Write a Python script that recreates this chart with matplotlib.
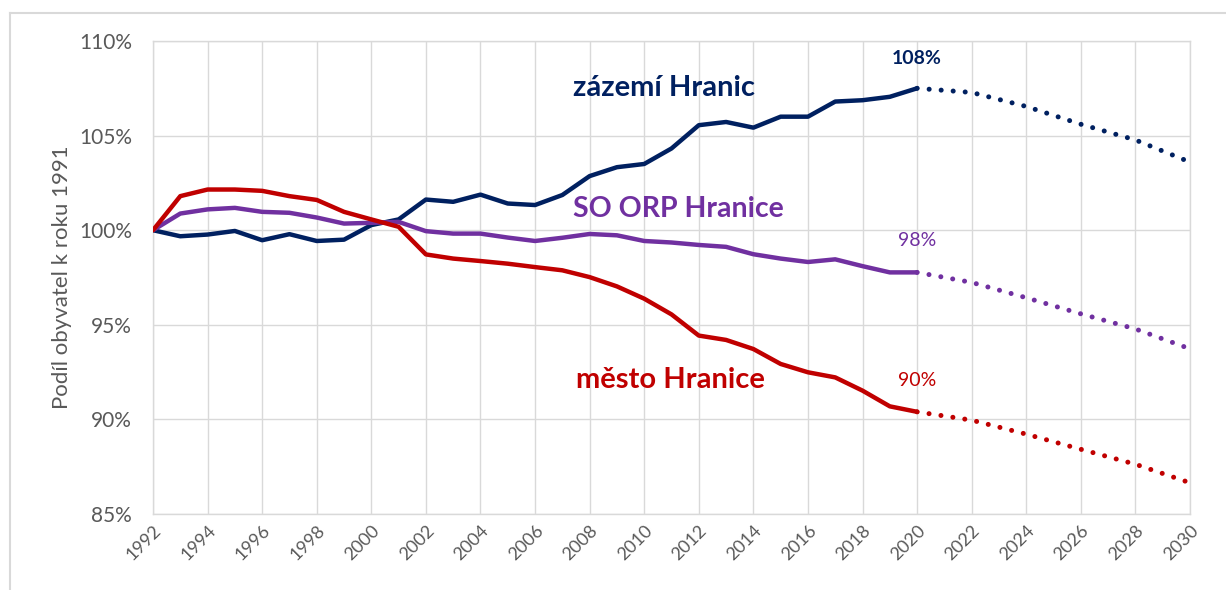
import matplotlib
matplotlib.use("Agg")
import matplotlib.pyplot as plt
from matplotlib.lines import Line2D
from matplotlib.ticker import FuncFormatter

# ---- data ----
years = list(range(1992, 2021))
zazemi = [100.0, 99.68, 99.77, 99.96, 99.47, 99.79, 99.43, 99.5, 100.27, 100.57,
          101.62, 101.5, 101.88, 101.41, 101.33, 101.86, 102.86, 103.33, 103.5, 104.32,
          105.55, 105.72, 105.42, 106.0, 106.0, 106.8, 106.87, 107.05, 107.5]
orp = [100.0, 100.88, 101.1, 101.18, 100.97, 100.92, 100.67, 100.35, 100.39, 100.44,
       99.95, 99.82, 99.82, 99.61, 99.43, 99.6, 99.8, 99.73, 99.43, 99.35,
       99.22, 99.12, 98.73, 98.5, 98.32, 98.46, 98.1, 97.77, 97.77]
mesto = [100.0, 101.8, 102.15, 102.15, 102.08, 101.8, 101.6, 100.97, 100.57, 100.18,
         98.72, 98.5, 98.37, 98.23, 98.05, 97.88, 97.52, 97.03, 96.38, 95.55,
         94.43, 94.2, 93.72, 92.93, 92.49, 92.22, 91.52, 90.69, 90.4]

proj_years = [2020, 2022, 2024, 2026, 2028, 2030]
zazemi_proj = [107.5, 107.28, 106.54, 105.6, 104.77, 103.6]
orp_proj = [97.77, 97.24, 96.43, 95.58, 94.78, 93.73]
mesto_proj = [90.4, 89.96, 89.22, 88.42, 87.63, 86.65]

series_names = ["zázemí Hranic", "SO ORP Hranice", "město Hranice"]
end_labels = ["108%", "98%", "90%"]
y_ticks = [85, 90, 95, 100, 105, 110]
x_ticks = list(range(1992, 2031, 2))

navy = "#002060"
purple = "#7030A0"
red = "#C00000"
grey = "#595959"
grid = "#D9D9D9"

plt.rcParams['font.family'] = ['Lato', 'DejaVu Sans']

fig = plt.figure(figsize=(12.26, 5.90), dpi=100)
ax = fig.add_axes([153/1226, 1 - 514/590, (1190-153)/1226, (514-41)/590])

for vals, pvals, col in [(zazemi, zazemi_proj, navy), (orp, orp_proj, purple), (mesto, mesto_proj, red)]:
    ax.plot(years, vals, color=col, lw=3.2, solid_capstyle='round', solid_joinstyle='round', zorder=3)
    ax.plot(proj_years, pvals, color=col, lw=3.6, linestyle=(0, (0.01, 2.4)),
            dash_capstyle='round', zorder=3)

ax.set_xlim(1992, 2030)
ax.set_ylim(85, 110)
ax.set_yticks(y_ticks)
ax.set_xticks(x_ticks)
ax.yaxis.set_major_formatter(FuncFormatter(lambda v, p: f"{v:.0f}%"))
ax.grid(True, color=grid, lw=1.0, zorder=0)
for s in ax.spines.values():
    s.set_color(grid)
    s.set_linewidth(1.0)
ax.tick_params(axis='both', length=0, colors=grey)
ax.tick_params(axis='y', labelsize=15, pad=15)
ax.tick_params(axis='x', labelsize=13, pad=6)
for lab in ax.get_xticklabels():
    lab.set_rotation(45)
    lab.set_ha('right')
    lab.set_rotation_mode('anchor')

fig.text(62/1226, 1 - 277/590, "Podíl obyvatel k roku 1991", fontsize=16, color=grey,
         rotation=90, ha='center', va='center')

# series labels
ax.text(2007.4, 107.5, series_names[0], color=navy, fontsize=21, fontweight='bold', va='center', ha='left')
ax.text(2007.4, 101.1, series_names[1], color=purple, fontsize=20.5, fontweight='bold', va='center', ha='left')
ax.text(2007.5, 92.1, series_names[2], color=red, fontsize=21, fontweight='bold', va='center', ha='left')

# end labels
ax.text(2020, 109.1, end_labels[0], color=navy, fontsize=14, fontweight='bold', ha='center', va='center')
ax.text(2020, 99.45, end_labels[1], color=purple, fontsize=14, ha='center', va='center')
ax.text(2020, 92.05, end_labels[2], color=red, fontsize=14, ha='center', va='center')

# outer frame (left & top)
fig.add_artist(Line2D([10/1226, 10/1226], [0, 1 - 13/590], transform=fig.transFigure, color=grid, lw=1.5))
fig.add_artist(Line2D([10/1226, 1], [1 - 13/590, 1 - 13/590], transform=fig.transFigure, color=grid, lw=1.5))

fig.savefig("out.png", dpi=100)
